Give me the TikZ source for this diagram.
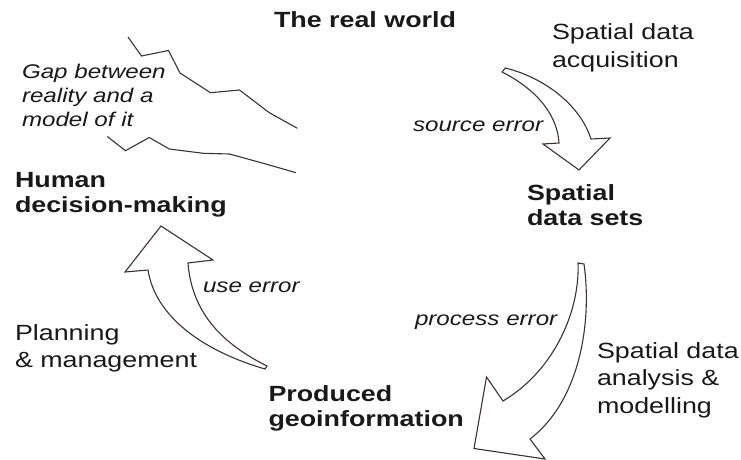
\documentclass[tikz,border=0pt]{standalone}
\usepackage{fontspec}
\setmainfont{Liberation Sans}[FakeStretch=1.22]
\definecolor{ink}{RGB}{25,25,25}
\definecolor{edge}{RGB}{60,50,50}
\newcommand{\mlines}[1]{\begin{tabular}[t]{@{}l@{}}#1\end{tabular}}
\tikzset{
  lbl/.style={anchor=base west, inner sep=0pt, outer sep=0pt, text=ink},
  boldlbl/.style={lbl, font=\fontsize{22}{25}\selectfont\bfseries},
  plainlbl/.style={lbl, font=\fontsize{22}{27.5}\selectfont},
  errlbl/.style={lbl, font=\fontsize{19.8}{24}\selectfont\itshape},
  blockarrow/.style={draw=edge, line width=1.1pt, fill=white, line join=miter},
  gapline/.style={draw=edge, line width=1.1pt, line join=miter},
}
\begin{document}
\begin{tikzpicture}[x=1pt,y=-1pt]
\useasboundingbox (0,0) rectangle (741,460);

% gap lines
\path[gapline] (128,37) -- (141.5,56) -- (168.5,50.5) -- (180,73) -- (210.5,92.7) -- (239.5,90) -- (269,112.5) -- (297.3,128.3);
\path[gapline] (107.3,136.5) -- (125.5,150.7) -- (149.2,137.5) -- (169.3,149) -- (203.3,153.3) -- (229.5,154) -- (263.3,163.3) -- (296,172.7);

% source error arrow
\path[blockarrow] (502,72) -- (505.5,68)
  .. controls (545,78) and (580,105) .. (591,139)
  -- (610,138) -- (579,170) -- (543,144) -- (559,143)
  .. controls (557,110) and (530,86) .. (502,72) -- cycle;

% process error arrow
\path[blockarrow] (578,263) -- (584,264)
  .. controls (592,320) and (581,400) .. (530,439)
  -- (545,459) -- (474,448.5) -- (486.5,377) -- (503,401)
  .. controls (555,370) and (580,310) .. (578,263) -- cycle;

% use error arrow
\path[blockarrow] (265,369)
  .. controls (200,350) and (155,315) .. (148,270)
  -- (125,272) -- (161,226) -- (213,260) -- (188,263)
  .. controls (192,315) and (225,345) .. (267,366) -- cycle;

% labels
\node[boldlbl] (world) at (274,28) {\mlines{The real world}};
\node[plainlbl] (acq) at (552,40) {\mlines{Spatial data\\acquisition}};
\node[errlbl] (gap) at (22,78) {\mlines{Gap between\\reality and a\\model of it}};
\node[boldlbl] (human) at (15,187) {\mlines{Human\\decision-making}};
\node[errlbl] (srcerr) at (413,131) {source error};
\node[boldlbl] (datasets) at (527,200) {\mlines{Spatial\\data sets}};
\node[errlbl] (useerr) at (203,292) {use error};
\node[plainlbl] (plan) at (15,340) {\mlines{Planning\\\& management}};
\node[errlbl] (procerr) at (415,325) {process error};
\node[plainlbl] (analysis) at (597,358) {\mlines{Spatial data\\analysis \&\\modelling}};
\node[boldlbl] (geoinfo) at (268.5,401.5) {\mlines{Produced\\geoinformation}};
\end{tikzpicture}
\end{document}
